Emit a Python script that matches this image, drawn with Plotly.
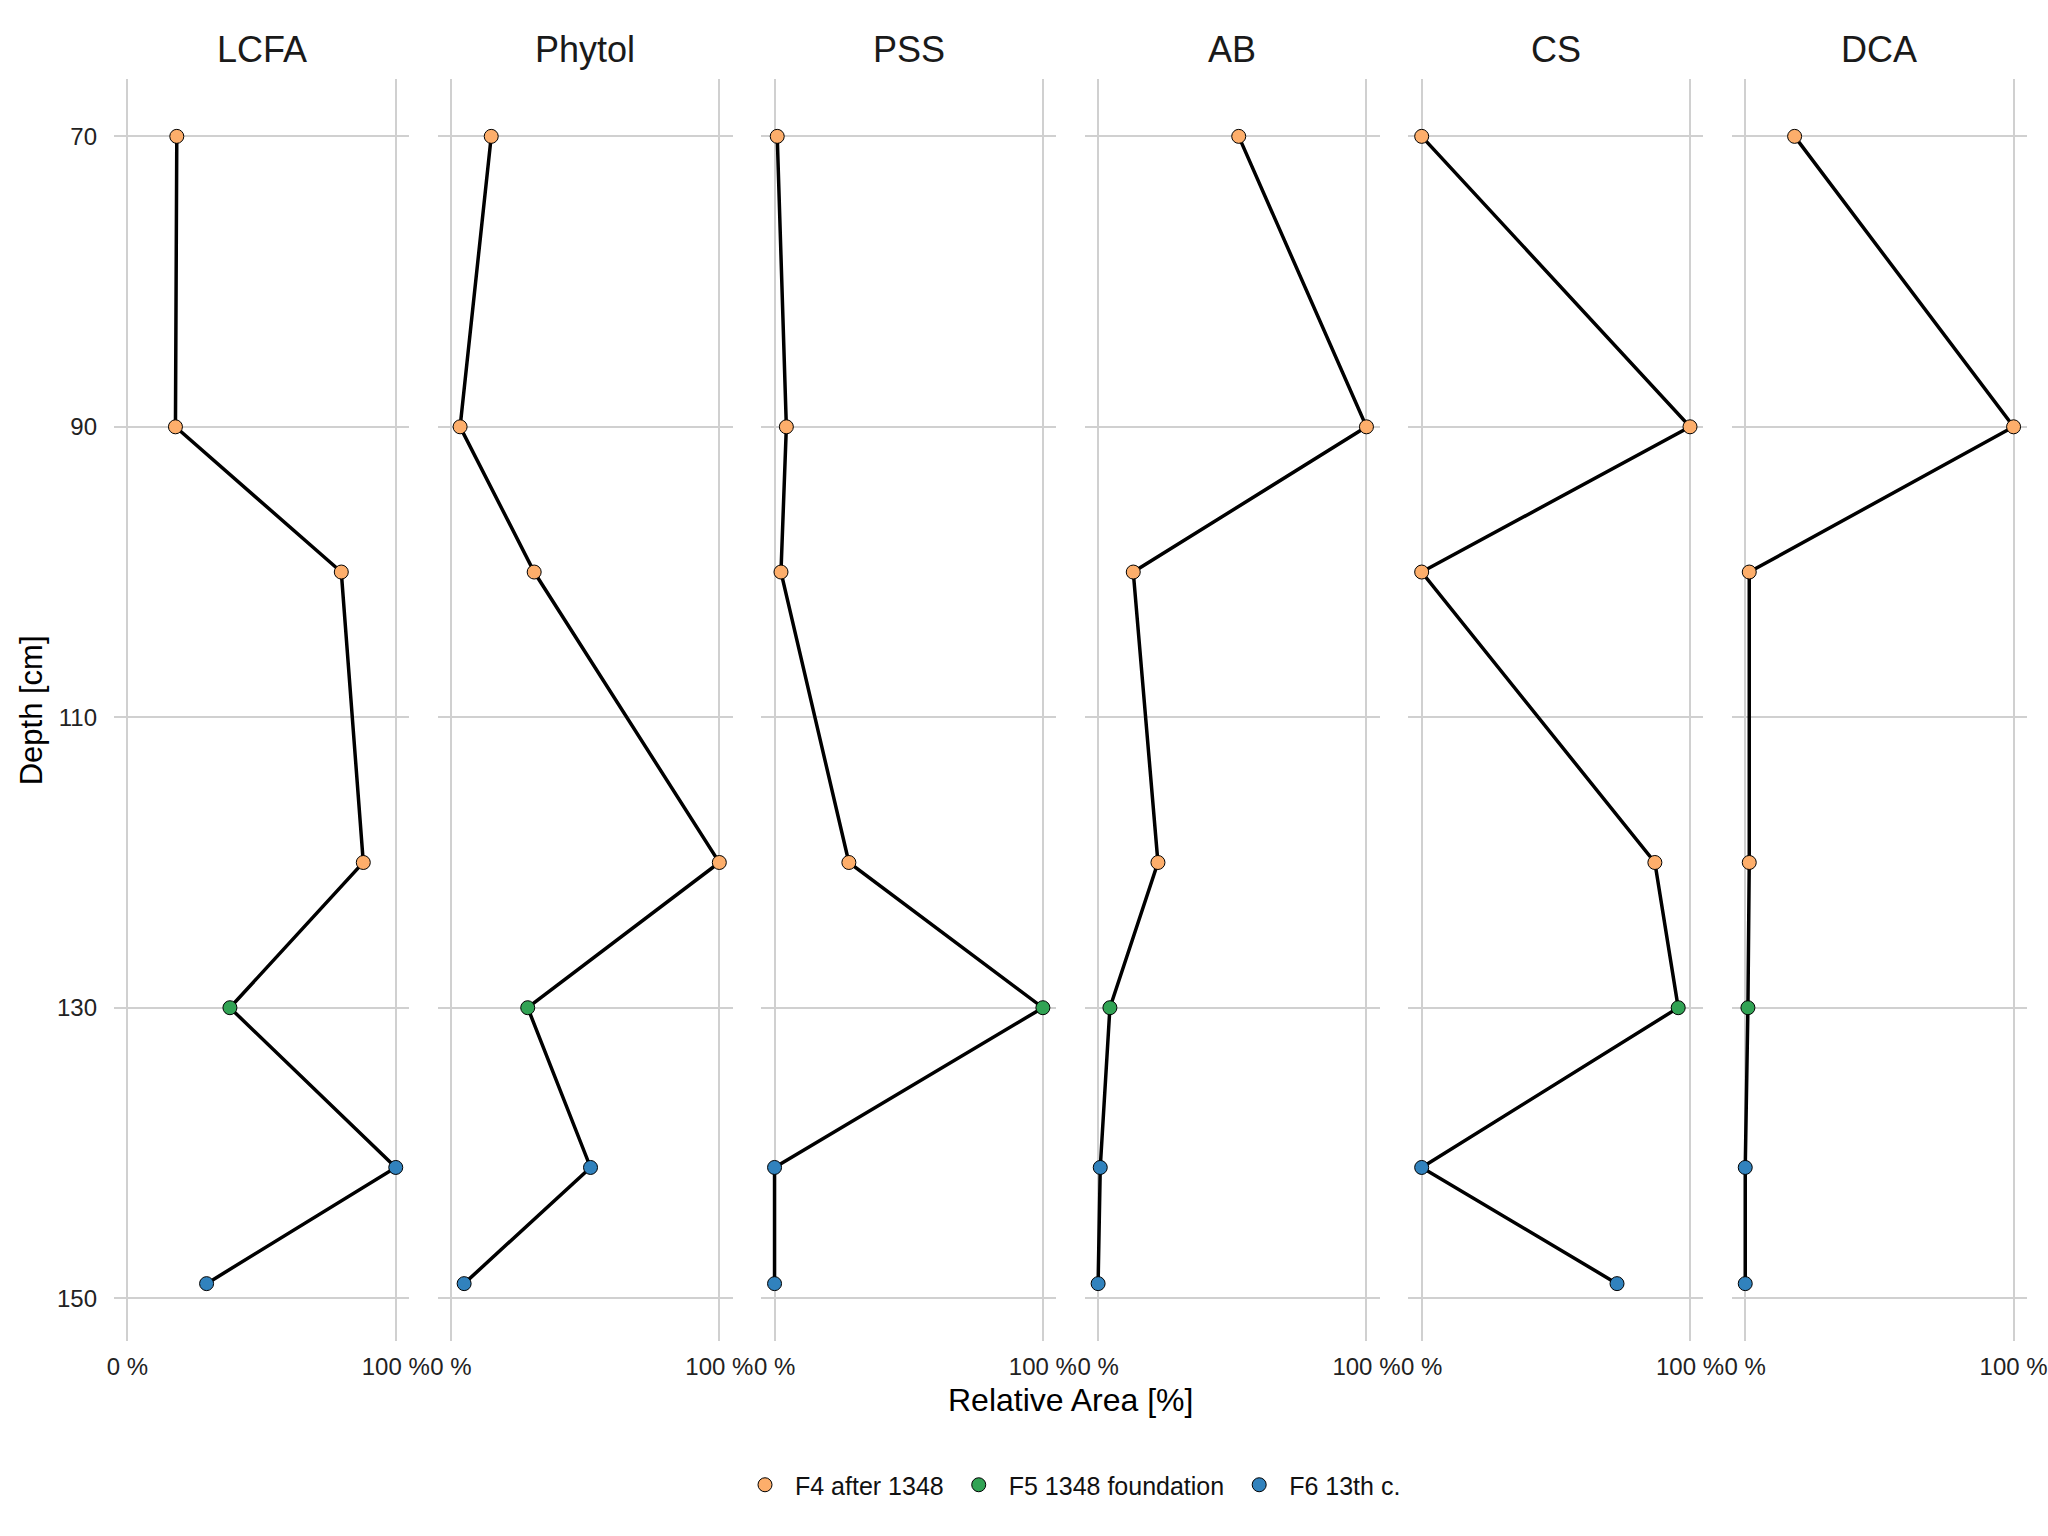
import plotly.graph_objects as go

# ---- data ----
panels = ["LCFA", "Phytol", "PSS", "AB", "CS", "DCA"]
depths = [70, 90, 100, 120, 130, 141, 149]
groups = ["F4 after 1348", "F4 after 1348", "F4 after 1348", "F4 after 1348",
          "F5 1348 foundation", "F6 13th c.", "F6 13th c."]
lcfa = [18.4, 17.9, 79.7, 87.9, 38.2, 100.0, 29.5]
phytol = [15.0, 3.4, 31.0, 100.0, 28.6, 52.0, 4.9]
pss = [1.0, 4.4, 2.4, 27.7, 100.0, 0.0, 0.0]
ab = [52.4, 100.0, 13.1, 22.3, 4.4, 0.8, 0.0]
cs = [0.0, 100.0, 0.0, 86.9, 95.6, 0.0, 72.8]
dca = [18.4, 100.0, 1.5, 1.5, 1.0, 0.0, 0.0]
values = [lcfa, phytol, pss, ab, cs, dca]
group_order = ["F4 after 1348", "F5 1348 foundation", "F6 13th c."]
group_colors = ["#fdae6b", "#31a354", "#3182bd"]
y_ticks = [70, 90, 110, 130, 150]
x_ticks = [0, 100]
x_ticklabels = ["0 %", "100 %"]

FONT = "Liberation Sans, Arial, Helvetica, sans-serif"
W, H = 2048, 1536
EFF_W = 2036  # rendered width observed
L, R, T, B = 114, 1, 79, 195
plot_w = EFF_W - L - R
plot_h = H - T - B
gap = 28.5
panel_w = (plot_w - 5 * gap) / 6

fig = go.Figure()
layout = {}
for i, (name, vals) in enumerate(zip(panels, values)):
    ax = "" if i == 0 else str(i + 1)
    xref = "x" + ax
    yref = "y" + ax
    x0 = i * (panel_w + gap) / plot_w
    x1 = x0 + panel_w / plot_w
    layout["xaxis" + ax] = dict(
        domain=[x0, x1], range=[-5, 105], tickvals=x_ticks, ticktext=x_ticklabels,
        showgrid=True, gridcolor="#d0d0d0", gridwidth=2, zeroline=False,
        showline=False, ticks="", ticklabelstandoff=9,
        tickfont=dict(size=24, color="#222222", family=FONT), anchor=yref,
    )
    layout["yaxis" + ax] = dict(
        domain=[0, 1], range=[152.95, 66.05], tickvals=y_ticks,
        showgrid=True, gridcolor="#d0d0d0", gridwidth=2, zeroline=False,
        showline=False, ticks="", showticklabels=(i == 0), ticklabelstandoff=16,
        tickfont=dict(size=24, color="#222222", family=FONT), anchor=xref,
    )
    fig.add_trace(go.Scatter(
        x=vals, y=depths, mode="lines", line=dict(color="black", width=3.5),
        showlegend=False, hoverinfo="skip", xaxis=xref, yaxis=yref,
    ))
    for g, c in zip(group_order, group_colors):
        xs = [v for v, gg in zip(vals, groups) if gg == g]
        ys = [d for d, gg in zip(depths, groups) if gg == g]
        fig.add_trace(go.Scatter(
            x=xs, y=ys, mode="markers", name=g, legendgroup=g,
            showlegend=(i == 0),
            marker=dict(size=14, color=c, line=dict(color="black", width=1)),
            xaxis=xref, yaxis=yref,
        ))

annotations = []
for i, name in enumerate(panels):
    x0 = i * (panel_w + gap) / plot_w
    annotations.append(dict(
        text=name, x=x0 + panel_w / plot_w / 2, y=1 + 29 / plot_h,
        xref="paper", yref="paper", xanchor="center", yanchor="middle",
        showarrow=False, font=dict(size=36, color="#1a1a1a", family=FONT),
    ))
annotations.append(dict(
    text="Relative Area [%]", x=0.5, y=-(1400 - (H - B)) / plot_h,
    xref="paper", yref="paper", xanchor="center", yanchor="middle",
    showarrow=False, font=dict(size=32, color="#000000", family=FONT),
))
annotations.append(dict(
    text="Depth [cm]", x=(31 - L) / plot_w, y=0.5, textangle=-90,
    xref="paper", yref="paper", xanchor="center", yanchor="middle",
    showarrow=False, font=dict(size=31, color="#000000", family=FONT),
))

fig.update_layout(
    **layout,
    width=W, height=H,
    margin=dict(l=L, r=R, t=T, b=B),
    paper_bgcolor="white", plot_bgcolor="white",
    annotations=annotations,
    showlegend=True,
    legend=dict(orientation="h", x=0.5, xanchor="center",
                y=-(1485 - (H - B)) / plot_h, yanchor="middle",
                font=dict(size=25, color="#111111", family=FONT),
                itemsizing="trace", itemwidth=50, traceorder="normal"),
)

fig.write_html("out.html")
